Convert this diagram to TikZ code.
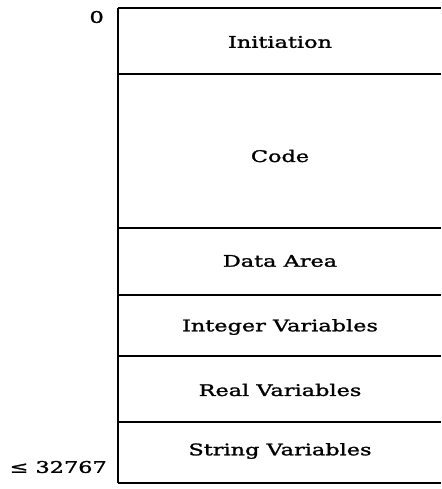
\documentclass[tikz,border=0pt]{standalone}
\usepackage{fontspec}
\setmainfont{DejaVu Serif}
\newfontfamily\widefont[FakeStretch=1.4,FakeBold=1.5]{DejaVu Serif}
\begin{document}
\begin{tikzpicture}[x=1pt,y=-1pt,
  sep/.style={line width=1.8pt},
  lbl/.style={font=\widefont\fontsize{16}{18}\selectfont, inner sep=0pt},
  num/.style={font=\widefont\fontsize{16}{18}\selectfont, inner sep=0pt}]
\useasboundingbox (0,0) rectangle (441,489);
\coordinate (tl) at (118,8);
\coordinate (bl) at (118,483);
\coordinate (tr) at (441,8);
\coordinate (br) at (441,483);
\draw[sep] (tl) -- (tr);
\draw[sep] (bl) -- (br);
\draw[line width=2.2pt] (tl) -- (bl);
\foreach \y/\n in {74/a,228/b,295/c,356/d,422/e} {
  \coordinate (l\n) at (118,\y);
  \coordinate (r\n) at (441,\y);
  \draw[sep] (l\n) -- (r\n);
}
\node[lbl] (init) at (280,42) {Initiation};
\node[lbl] (code) at (280,156) {Code};
\node[lbl] (data) at (280,261) {Data Area};
\node[lbl] (int) at (280,327) {Integer Variables};
\node[lbl] (real) at (280,390) {Real Variables};
\node[lbl] (str) at (280,451) {String Variables};
\node[num, anchor=east] (zero) at (104,17) {0};
\node[num, anchor=east] (max) at (107,467) {≤ 32767};
\end{tikzpicture}
\end{document}
